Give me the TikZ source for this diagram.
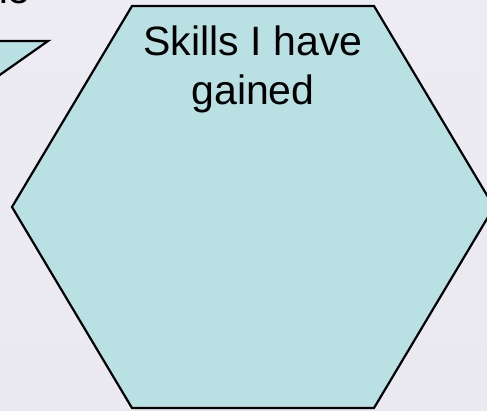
\documentclass[tikz,border=0pt]{standalone}
\usepackage{fontspec}
\setmainfont{Liberation Sans}
\definecolor{skillfill}{RGB}{185,224,227}
\definecolor{bgtop}{RGB}{236,236,242}
\definecolor{bgmid}{RGB}{251,251,253}
\definecolor{bgbot}{RGB}{233,233,239}

\begin{document}
\begin{tikzpicture}[x=1pt,y=-1pt,
		panel/.style={draw=black,line width=2.2pt,line join=miter,fill=skillfill},
		bigtext/.style={font=\fontsize{41}{49}\selectfont,align=center,inner sep=0pt}]
		\useasboundingbox (0,0) rectangle (487,410);
		\clip (0,0) rectangle (487,410);
		\shade [top color=bgtop,middle color=bgmid,bottom color=bgbot] (0,0) rectangle (487,410);
		% left wedge, mostly off the page
		\draw [panel] (48,41) -- (-60,41) -- (-60,117) -- cycle;
		% the hexagon
		\draw [panel] (132,6) -- (374,6) -- (494,207) -- (374,408) -- (132,408) -- (12,207) -- cycle;
		\node [bigtext,anchor=north] (skills) at (253,26) {Skills I have\\gained};
		\node [bigtext,anchor=base east] (cut) at (31,3) {ne};
	\end{tikzpicture}
\end{document}
